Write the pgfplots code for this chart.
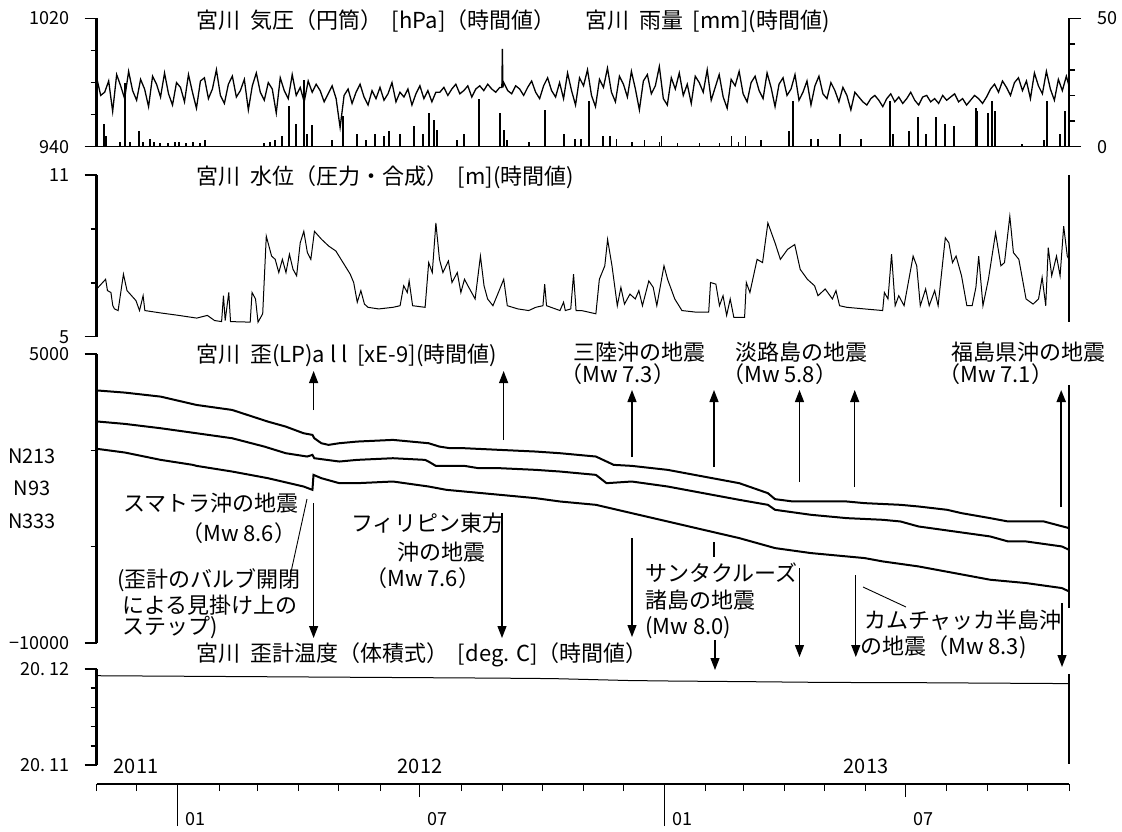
\documentclass[border=0pt]{standalone}
\usepackage{fontspec}
\setmainfont{Noto Sans CJK JP}
\usepackage{pgfplots}
\pgfplotsset{compat=1.18}
\usetikzlibrary{arrows.meta}
\newcommand\tf{\fontsize{22pt}{26pt}\selectfont}
\newcommand\lf{\fontsize{18pt}{21pt}\selectfont}
\newcommand\gp{\hspace{0.45em}}
\pgfplotsset{
  panel/.style={scale only axis, width=972.3pt, anchor=north west,
    xmin=0, xmax=731, axis x line=none, axis y line*=left,
    axis line style={-, line width=2.6pt, black},
    tick align=outside, major tick length=12pt, minor tick length=6pt,
    tick style={black, line width=1.5pt},
    yticklabels={}, scaled y ticks=false,
    clip=false},
}
\begin{document}
\begin{tikzpicture}
% ---------- P1 pressure ----------
\begin{axis}[panel, at={(96.7pt,-18.5pt)}, height=128.2pt, ymin=940, ymax=1020,
  ytick={940,1020}, minor ytick={960,980,1000}]
\addplot[black, line width=1.3pt] coordinates {
(0,983)(3,972)(6,974)(9,981)(12,962)(15,985)(18,978)(21,970)(24,987)(27,975)(30,969)(33,982)(36,976)(39,965)(42,984)(45,979)(48,971)(51,986)(54,973)(57,966)(60,980)(63,977)(66,968)(69,985)(72,974)(75,964)(78,981)(81,983)(84,970)(87,976)(90,988)(93,972)(96,967)(99,979)(102,984)(105,971)(108,975)(111,982)(114,963)(117,978)(120,986)(123,974)(126,969)(129,980)(132,976)(135,961)(138,983)(141,975)(144,970)(147,985)(150,972)(153,977)(156,968)(159,981)(162,974)(165,979)
(168,975)(171,968)(174,973)(177,978)(180,970)(183,952)(186,972)(189,976)(192,967)(195,974)(198,979)(201,971)(204,966)(207,975)(210,970)(213,977)(216,969)(219,973)(222,980)(225,968)(228,974)(231,971)(234,976)(237,966)(240,973)(243,978)(246,970)(249,975)(252,968)(255,974)
(258,974)(261,977)(264,972)(267,976)(270,979)(273,973)(276,975)(279,978)(282,971)(285,976)(288,978)(291,975)(294,979)(297,976)(300,974)(303,977)(304.6,977)(305,1001)(305.4,977)(306,980)(309,975)(312,973)(315,978)(318,976)(321,972)(324,977)(327,981)(330,974)(333,970)(336,978)(339,983)(342,975)(345,971)
(348,980)(351,970)(354,986)(357,975)(360,966)(363,983)(366,978)(369,988)(372,972)(375,965)(378,982)(381,977)(384,989)(387,974)(390,968)(393,984)(396,979)(399,971)(402,987)(405,976)(408,963)(411,981)(414,985)(417,973)(420,978)(423,990)(426,970)(429,966)(432,983)(435,976)(438,986)(441,972)(444,979)(447,967)(450,984)(453,980)(456,974)(459,988)(462,969)(465,977)(468,985)(471,971)(474,964)(477,982)(480,978)(483,987)(486,973)(489,968)(492,980)(495,984)(498,975)(501,970)(504,986)(507,977)(510,965)(513,979)(516,983)(519,972)(522,976)(525,985)(528,969)(531,974)(534,981)(537,966)(540,978)(543,984)(546,973)(549,970)(552,980)(555,975)(558,968)(561,977)(564,972)(567,963)(570,974)
(573,971)(576,968)(579,966)(582,970)(585,972)(588,969)(591,965)(594,970)(597,973)(600,968)(603,971)(606,967)(609,970)(612,974)(615,969)(618,966)(621,971)(624,972)(627,968)(630,970)(633,967)(636,972)(639,969)(642,971)(645,973)(648,968)(651,970)(654,966)(657,969)(660,972)(663,970)(666,967)(669,971)(672,976)(675,979)(678,974)(681,981)(684,977)(687,972)(690,980)
(693,983)(696,975)(699,981)(702,970)(705,986)(708,978)(711,973)(714,987)(717,976)(720,969)(723,982)(726,975)(729,984)(731,978)
};
\end{axis}
% ---------- P1 rain ----------
\begin{axis}[panel, at={(96.7pt,-18.5pt)}, height=128.2pt, ymin=0, ymax=50, axis y line*=right,
  axis line style={-, line width=2.2pt, black},
  ytick={0,50}, minor ytick={10,20,30,40}]
\addplot[ycomb, black, line width=1.4pt] coordinates {
(5.5,9)(7,4)(17.5,2)(21.3,25)(25,2)(31.8,6)(34.8,2)(40,3)(43,2)(47.6,1.5)(53.6,1.3)(58.9,2)(61.9,2)(67.1,1.5)(72.4,2)(77.7,1.5)(81.4,2.6)
(125.8,1.3)(130.3,2)(134,2.6)(139.3,4)(144.6,16)(149.8,9)(155.8,26)(158.1,5)(161.9,8.6)(177,2.6)(185.2,12)(195.7,5)(202.5,2.6)(209.2,5)(216,4)(219.8,6)(228,5)(238.6,8)(245.4,5)(249.9,13)(253.6,10.6)(255.9,6.6)(271,2.6)(276.2,5)(287.5,18.5)(303.3,13)(306.3,6.6)(308.6,2.6)(325,2)(337.1,14.5)
(351.3,5)(359.6,3)(364,3)(370,18)(380.6,4)(385.8,4)(391,3)(402.3,2)(412,2.5)(423.3,2)(424.8,4)(436.8,1.5)(453.4,1.5)(468.4,1.5)(477.4,4)(482.7,2)(488,4)(499.4,2.6)(520.4,6)(523.4,18)(537,3)(542.3,3)(558.8,5)(574.6,3)(596.4,18)(598.7,5)(610.8,6)(617.5,11.7)(623.5,5)(631,11.7)(637.8,9)(644.6,8)(661.2,15)(661.9,14)(670.1,13)(673.2,18)(675.4,14)(695.7,1)(712.2,2.6)(714.5,18)(724.3,5)(728,14)
};
\addplot[black, line width=1.4pt] coordinates {(0,0)(731,0)};
\end{axis}
% ---------- P2 water level ----------
\begin{axis}[panel, at={(96.7pt,-175pt)}, height=161.7pt, ymin=5, ymax=11,
  ytick={5,11}, minor ytick={7,9}]
\addplot[black, line width=1pt] coordinates {
(0,6.77)(6.7,7.13)(8.1,6.71)(10.7,6.64)(12.1,6.15)(13.4,6.03)(16.1,5.97)(20.1,7.32)(22.8,6.71)(29.5,6.34)(32.2,5.97)(34.9,6.52)(36.2,5.97)(48.3,5.88)(61.7,5.79)(75.2,5.69)(83.2,5.79)(88.6,5.60)(93.9,5.56)(95.3,6.52)(96.6,5.60)(99.3,6.64)(100.6,5.56)(115.4,5.54)(116.8,6.64)(119.4,6.40)(121.3,5.54)(124.8,5.85)(127.5,8.73)(131.5,7.99)(134.2,7.87)(136.9,7.38)(139.6,7.87)(142.3,7.38)(144.9,8.06)(147.6,7.50)(150.3,7.26)(153,8.48)(155.7,8.91)(158.4,8.12)(161,7.87)(163.7,8.91)(169.1,8.61)(174.5,8.36)(179.8,8.18)(185.2,7.75)(190.6,7.32)(193.2,7.01)(195.9,6.28)(198.6,6.71)(201.3,6.21)(204,6.09)(212,6.03)(222.8,6.09)(228.1,6.15)(230.8,6.89)(233.5,6.64)(234.9,7.07)(237.5,6.15)(246.9,6.09)(249.6,7.75)(252.3,7.38)(255,9.22)(257.7,7.87)(260.3,7.38)(264.4,7.81)(267.1,7.01)(271.1,7.38)(273.8,6.64)(276.5,7.13)(279.1,6.89)(284.5,6.40)(288.5,7.99)(291.2,6.89)(293.9,6.40)(297.9,6.15)(302,6.64)(306,7.13)(308.7,6.15)(316.7,6.03)(324.8,5.97)(330.1,6.09)(335.5,6.15)(336.8,6.95)(338.2,6.15)(348.3,5.97)
(351,6.28)(352.3,5.97)(356.4,6.03)(358.5,7.32)(360.4,5.97)(364.5,5.97)(375.3,5.85)(377.9,7.13)(382,7.63)(384.1,8.61)(387.4,7.63)(391.4,6.15)(394.1,6.83)(396.8,6.21)(400.9,6.58)(404.9,6.40)(407.6,6.71)(410.3,6.15)(415.1,7.07)(418.4,6.83)(421.1,6.15)(426.5,7.63)(429.2,7.13)(434.6,6.40)(440,5.97)(450.7,5.91)(460.1,5.91)(461.5,7.01)(465.5,6.95)(468.2,6.15)(470.9,6.52)(473.6,5.79)(476.3,6.40)(479,5.72)(487.1,5.72)(488.4,7.01)(491.1,6.64)(496.5,7.87)(500.6,7.75)(504.6,9.22)(510,8.48)(514,7.87)(519.4,8.24)(524.8,8.42)(528.9,7.50)(534.3,7.13)(539.7,6.89)(542.3,6.52)(547.7,6.77)(553.1,6.40)(555.8,6.71)(558.5,6.15)(563.9,6.09)(577.4,6.03)(590.9,5.97)(592.2,6.64)(594.9,6.40)(597.6,8.06)(600.3,6.15)(603,6.52)(607,6.15)(613.8,7.99)(616.5,7.63)(619.2,6.15)(623.2,6.77)(625.9,6.15)(630,6.71)(632.6,6.15)(638,8.67)(640.7,8.48)(643.4,7.75)(646.1,7.99)(650.2,7.26)(654.2,6.15)(658.2,6.15)(661,6.83)(663.1,7.99)(666.3,6.15)(670.4,7.13)(675.8,8.85)(679.8,7.63)(682.5,7.75)(686.5,9.47)(689.2,8.12)(693.3,7.87)(698.7,6.40)(704,6.21)(708.1,6.40)(710.8,7.20)(713.5,6.15)(715.4,8.30)(718,7.26)(721.6,7.99)(724.3,7.26)(727,9.10)(729.7,7.99)(731,7.87)
};
\addplot[black, line width=2.5pt] coordinates {(731,11)(731,5.56)};
\end{axis}
% ---------- P3 strain ----------
\begin{axis}[panel, at={(96.7pt,-354pt)}, height=289pt, ymin=-10000, ymax=5000,
  ytick={-10000,5000}, minor ytick={-5000,0}]
\addplot[black, line width=2pt] coordinates {
(0,3110)(21.3,2996)(48.1,2788)(75,2356)(101.8,2097)(128.7,1492)(142.1,1233)(155.5,888)(162.2,801)(163.6,628)(168.9,369)(174.3,283)(182.4,369)(195.8,455)(222.7,542)(249.5,369)(257.6,196)(265.6,110)(276.4,110)(303.2,23)(330,-63)(348.3,-149)(375.3,-322)(388.7,-754)(402.2,-806)(429.2,-1013)(456.1,-1359)(483.1,-1705)(504.6,-2223)(510,-2534)(523.5,-2655)(537,-2655)(563.9,-2655)(577.4,-2741)(604.3,-2828)(617.8,-2914)(639.4,-3087)(650.2,-3260)(671.7,-3519)(685.2,-3692)(712.1,-3692)(731,-4037)
};
\addplot[black, line width=2pt] coordinates {
(0,1500)(21.3,1371)(48.1,1147)(75,888)(101.8,628)(126,196)(142.1,-149)(158.2,-322)(162.2,-236)(163.6,-409)(182.4,-581)(195.8,-495)(222.7,-409)(246.8,-495)(249.5,-581)(254.9,-806)(276.4,-806)(287.1,-927)(303.2,-927)(330,-1013)(348.3,-1100)(375.3,-1273)(383.3,-1705)(402.2,-1618)(429.2,-1877)(456.1,-2223)(483.1,-2569)(504.6,-2828)(510,-3087)(537,-3346)(563.9,-3519)(590.9,-3605)(604.3,-3692)(617.8,-3951)(644.8,-4210)(671.7,-4469)(685.2,-4729)(698.7,-4729)(725.6,-4988)(731,-5161)
};
\addplot[black, line width=2pt] coordinates {
(0,80)(21.3,-115)(48.1,-495)(72.3,-754)(75,-806)(101.8,-1100)(128.7,-1445)(155.5,-1877)(162.2,-2050)(163,-1273)(168.9,-1445)(182.4,-1705)(195.8,-1705)(222.7,-1618)(249.5,-1877)(262.9,-2050)(276.4,-2137)(303.2,-2309)(330,-2482)(348.3,-2655)(375.3,-2828)(402.2,-3260)(429.2,-3692)(456.1,-4124)(483.1,-4556)(510,-5074)(537,-5333)(563.9,-5506)(577.4,-5593)(590.9,-5765)(617.8,-6025)(644.8,-6370)(671.7,-6716)(698.7,-6889)(725.6,-7148)(731,-7321)
};
\addplot[black, line width=2.5pt] coordinates {(731,3400)(731,-8200)};
\end{axis}
% ---------- P4 temperature ----------
\begin{axis}[panel, at={(96.7pt,-669pt)}, height=96pt, ymin=20.11, ymax=20.12,
  ytick={20.11,20.12}, minor ytick={20.112,20.114,20.116,20.118}]
\addplot[black, line width=1pt] coordinates {
(0,20.1193)(60,20.11925)(120,20.1192)(180,20.11915)(240,20.1191)(300,20.11905)(343,20.1190)(400,20.1188)(430,20.11875)(490,20.11868)(550,20.1186)(610,20.11858)(670,20.11853)(731,20.11848)
};
\addplot[black, line width=2.5pt] coordinates {(731,20.11949)(731,20.1101)};
\end{axis}
% ---------- time axis ----------
\begin{axis}[scale only axis, width=972.3pt, height=5pt, at={(96.7pt,-784pt)}, anchor=south west,
  xmin=0, xmax=731, ymin=0, ymax=1, axis y line=none, axis x line*=bottom,
  axis line style={-, line width=2.4pt, black}, tick align=outside,
  xtick={0,30,92,121,152,182,213,274,305,335,366,396,458,486,517,547,578,639,670,700,731},
  xticklabels={}, major tick length=7pt,
  minor xtick={243,608}, minor tick length=13pt,
  extra x ticks={61,427}, extra x tick labels={}, extra x tick style={major tick length=42pt},
  tick style={black, line width=1pt}]
\addplot[draw=none] coordinates {(0,0)(731,1)};
\end{axis}
% ---------- annotations ----------
\begin{scope}[x=1pt, y=-1pt, every node/.style={inner sep=0pt, font=\tf}]
% tick labels
\node[anchor=east,font=\lf] at (70,18.5) {1020};
\node[anchor=east,font=\lf] at (70,146.7) {940};
\node[anchor=west,font=\lf] at (1097,18.5) {50};
\node[anchor=west,font=\lf] at (1097,146.7) {0};
\node[anchor=east,font=\lf] at (70,175) {11};
\node[anchor=east,font=\lf] at (70,336.7) {5};
\node[anchor=east,font=\lf] at (70,354) {5000};
\node[anchor=east,font=\lf] at (70,643) {−10000};
\node[anchor=east,font=\lf] at (70,669) {20.\ 12};
\node[anchor=east,font=\lf] at (70,765) {20.\ 11};
% titles
\node[anchor=west] at (196,21) {宮川\gp 気圧（円筒）\gp[hPa]（時間値）};
\node[anchor=west] at (585,21) {宮川\gp 雨量\gp[mm](時間値)};
\node[anchor=west] at (196,177) {宮川\gp 水位（圧力・合成）\gp[m](時間値)};
\node[anchor=west] at (196,355) {宮川\gp 歪(LP)a l l\gp[xE-9](時間値)};
\node[anchor=west] at (196,655) {宮川\gp 歪計温度（体積式）\gp[deg. C]（時間値）};
\node[font=\fontsize{20pt}{24pt}\selectfont] at (32,456) {N213};
\node[font=\fontsize{20pt}{24pt}\selectfont] at (32,488) {N93};
\node[font=\fontsize{20pt}{24pt}\selectfont] at (32,521) {N333};
% year / month labels
\node[font=\fontsize{20pt}{24pt}\selectfont] at (136,766) {2011};
\node[font=\fontsize{20pt}{24pt}\selectfont] at (420,766) {2012};
\node[font=\fontsize{20pt}{24pt}\selectfont] at (866,766) {2013};
\node[anchor=west,font=\lf] at (185,819) {01};
\node[anchor=west,font=\lf] at (427,819) {07};
\node[anchor=west,font=\lf] at (672,819) {01};
\node[anchor=west,font=\lf] at (913,819) {07};
% event labels
\node[anchor=west] at (123,503) {スマトラ沖の地震};
\node[anchor=west] at (181,533) {（Mw 8.6）};
\node[anchor=west] at (117,580) {(歪計のバルブ開閉};
\node[anchor=west] at (122,605) {による見掛け上の};
\node[anchor=west] at (122,628) {ステップ)};
\node[anchor=west] at (351,523) {フィリピン東方};
\node[anchor=west] at (397,552) {沖の地震};
\node[anchor=west] at (365,578) {（Mw 7.6）};
\node[anchor=west] at (573,352) {三陸沖の地震};
\node[anchor=west] at (560,374) {（Mw 7.3）};
\node[anchor=west] at (735,352) {淡路島の地震};
\node[anchor=west] at (722,374) {（Mw 5.8）};
\node[anchor=west] at (951,352) {福島県沖の地震};
\node[anchor=west] at (938,374) {（Mw 7.1）};
\node[anchor=west] at (645,573) {サンタクルーズ};
\node[anchor=west] at (645,600) {諸島の地震};
\node[anchor=west] at (645,628) {(Mw 8.0)};
\node[anchor=west] at (864,620) {カムチャッカ半島沖};
\node[anchor=west] at (860,647) {の地震（Mw 8.3)};
% arrows
\tikzset{ar/.style={line width=1.2pt, -{Triangle[length=12pt,width=9pt]}}}
\draw[ar] (313.6,410) -- (313.6,371);
\draw[ar] (503.6,440) -- (503.6,371);
\draw[ar] (632,457) -- (632,390);
\draw[ar] (714,467) -- (714,390);
\draw[ar] (799.5,482) -- (799.5,390);
\draw[ar] (854.7,487) -- (854.7,390);
\draw[ar, line width=2pt] (1061.2,507) -- (1061.2,390);
\draw[ar] (313.6,503) -- (313.6,638);
\draw[ar] (502,513) -- (502,638);
\draw[ar] (632,538) -- (632,637);
\draw[line width=1.2pt] (714,542) -- (714,557);
\draw[ar] (715,640) -- (715,670);
\draw[ar] (799.5,568) -- (799.5,657);
\draw[ar] (855.8,575) -- (855.8,657);
\draw[ar] (1062,603) -- (1062,667);
\draw[line width=0.9pt] (291,572) -- (307,499);
\draw[line width=0.9pt] (863,587) -- (906,607);
\end{scope}
\pgfresetboundingbox
\path[use as bounding box] (0pt,0pt) rectangle (1122pt,-832pt);
\end{tikzpicture}
\end{document}
